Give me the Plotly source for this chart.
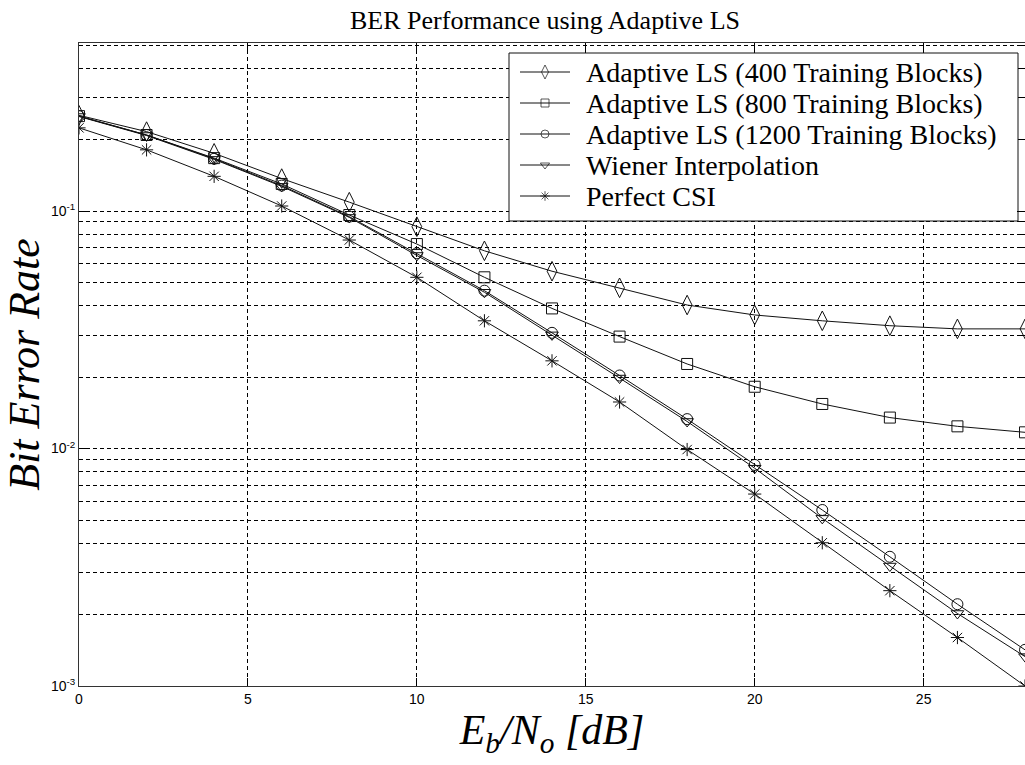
import numpy as np
import plotly.graph_objects as go

# Eb/No grid (dB)
ebno = [0, 2, 4, 6, 8, 10, 12, 14, 16, 18, 20, 22, 24, 26, 28]

# Bit error rate per receiver
ber_ls400 = [0.253, 0.216, 0.175, 0.137, 0.109, 0.0859, 0.068, 0.0558, 0.0475,
             0.0402, 0.0365, 0.0345, 0.0329, 0.0319, 0.0319]
ber_ls800 = [0.251, 0.209, 0.167, 0.130, 0.0962, 0.0726, 0.0526, 0.0389, 0.0296,
             0.0227, 0.0182, 0.0154, 0.0135, 0.0124, 0.0117]
ber_ls1200 = [0.251, 0.209, 0.166, 0.128, 0.0947, 0.0664, 0.0462, 0.0307, 0.0203,
              0.0133, 0.00853, 0.00551, 0.0035, 0.00221, 0.00142]
ber_wiener = [0.250, 0.208, 0.165, 0.127, 0.094, 0.065, 0.0455, 0.0301, 0.0198,
              0.0130, 0.00826, 0.00508, 0.0032, 0.00202, 0.00133]
ber_csi = [0.224, 0.181, 0.140, 0.105, 0.0755, 0.0526, 0.0345, 0.0234, 0.0157,
           0.0099, 0.00643, 0.00401, 0.00252, 0.0016, 0.0010]

series_names = [
    "Adaptive LS (400 Training Blocks)",
    "Adaptive LS (800 Training Blocks)",
    "Adaptive LS (1200 Training Blocks)",
    "Wiener Interpolation",
    "Perfect CSI",
]
series_values = [ber_ls400, ber_ls800, ber_ls1200, ber_wiener, ber_csi]
series_symbols = ["diamond-tall-open", "square-open", "circle-open",
                  "triangle-down-open", "asterisk-open"]
series_sizes = [14, 11, 11, 11, 11]
key_sizes = [10, 8, 8, 8, 8]

x_ticks = [0, 5, 10, 15, 20, 25]
y_decades = [1e-3, 1e-2, 1e-1]
y_ticktext = ["10<sup>-3</sup>", "10<sup>-2</sup>", "10<sup>-1</sup>"]
y_minor = [m * d for d in y_decades for m in range(2, 10) if m * d <= 0.5]

INK = "#111111"
W, H = 1025, 765
M_L, M_R, M_T, M_B = 79, 0, 43, 79

fig = go.Figure()
for name, vals, sym, sz in zip(series_names, series_values, series_symbols, series_sizes):
    fig.add_trace(go.Scatter(
        x=ebno, y=vals, name=name, mode="lines+markers", showlegend=False,
        line=dict(color=INK, width=1),
        marker=dict(symbol=sym, size=sz, color=INK, line=dict(color=INK, width=1)),
    ))

# Key box drawn on a hidden overlay frame measured in pixels from the top-left
key_left, key_right, key_top, key_bottom = 509, 1018, 53, 221
key_rows = [72, 103, 134, 165, 196]
sample_x0, sample_x1, text_x = 520, 570, 584

fig.add_trace(go.Scatter(
    x=[key_left, key_right, key_right, key_left, key_left],
    y=[key_top, key_top, key_bottom, key_bottom, key_top],
    xaxis="x2", yaxis="y2", mode="lines", fill="toself",
    fillcolor="white", line=dict(color=INK, width=1),
    hoverinfo="skip", showlegend=False,
))
for name, sym, ksz, row in zip(series_names, series_symbols, key_sizes, key_rows):
    fig.add_trace(go.Scatter(
        x=[sample_x0, (sample_x0 + sample_x1) / 2, sample_x1], y=[row, row, row],
        xaxis="x2", yaxis="y2", mode="lines+markers",
        line=dict(color=INK, width=1),
        marker=dict(symbol=sym, size=[0, ksz, 0], color=INK,
                    line=dict(color=INK, width=1)),
        hoverinfo="skip", showlegend=False,
    ))
    fig.add_annotation(
        x=text_x, y=row, xref="x2", yref="y2", text=name, showarrow=False,
        xanchor="left", yanchor="middle",
        font=dict(family="Liberation Serif", size=28, color="black"),
    )

grid_dash = "4px,3px"
fig.update_layout(
    width=W, height=H,
    margin=dict(l=M_L, r=M_R, t=M_T, b=M_B),
    paper_bgcolor="white", plot_bgcolor="white",
    title=dict(text="BER Performance using Adaptive LS",
               font=dict(family="Liberation Serif", size=26, color="black"),
               x=545 / W, xanchor="center", y=1 - 20 / H, yanchor="middle"),
    showlegend=False,
    font=dict(family="Liberation Sans", size=14, color="black"),
    xaxis=dict(
        range=[0, 28], tickvals=x_ticks, ticks="inside", ticklen=8,
        tickcolor="black", showline=True, linecolor="#333333", linewidth=1,
        mirror="ticks", showgrid=True, gridcolor="black", gridwidth=1,
        griddash=grid_dash, zeroline=False,
        tickfont=dict(family="Liberation Sans", size=14, color="black"),
        title=dict(text="<i>E<sub>b</sub>/N<sub>o</sub> [dB]</i>",
                   font=dict(family="Liberation Serif", size=42, color="black"),
                   standoff=2),
    ),
    yaxis=dict(
        type="log", range=[-3, np.log10(0.51)],
        tickvals=y_decades, ticktext=y_ticktext, ticks="inside", ticklen=8,
        tickcolor="black", showline=True, linecolor="#333333", linewidth=1,
        mirror="ticks", showgrid=True, gridcolor="black", gridwidth=1,
        griddash=grid_dash, zeroline=False,
        tickfont=dict(family="Liberation Sans", size=14, color="black"),
        minor=dict(tickmode="array", tickvals=y_minor, ticks="inside", ticklen=4,
                   tickcolor="black", showgrid=True, gridcolor="black",
                   gridwidth=1, griddash=grid_dash),
        title=dict(text="<i>Bit Error Rate</i>",
                   font=dict(family="Liberation Serif", size=44, color="black"),
                   standoff=4),
    ),
    xaxis2=dict(overlaying="x", anchor="y2", range=[M_L, W - M_R], visible=False,
                fixedrange=True),
    yaxis2=dict(overlaying="y", anchor="x2", range=[H - M_B, M_T], visible=False,
                fixedrange=True),
)

fig.write_html("out.html")
